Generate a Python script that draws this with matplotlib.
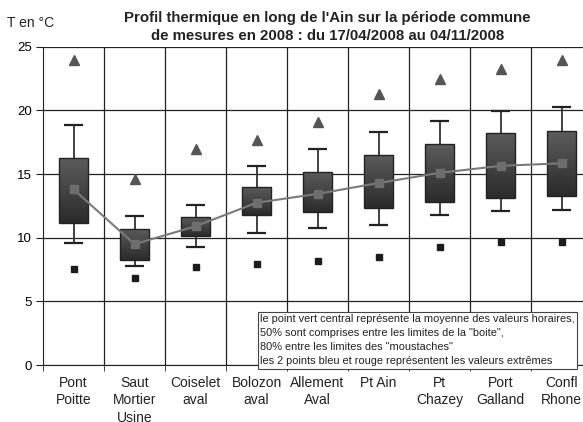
import numpy as np
import matplotlib
matplotlib.use("Agg")
import matplotlib.pyplot as plt

plt.rcParams['font.family'] = ['Liberation Sans', 'DejaVu Sans']

# Stations along the Ain (upstream -> downstream)
stations = ["Pont\nPoitte", "Saut\nMortier\nUsine", "Coiselet\naval", "Bolozon\naval",
            "Allement\nAval", "Pt Ain", "Pt\nChazey", "Port\nGalland", "Confl\nRhone"]

# temperatures (°C)
t_max = [24.0, 14.6, 16.95, 17.7, 19.1, 21.3, 22.5, 23.25, 23.95]
whisk_hi = [18.85, 11.7, 12.6, 15.6, 17.0, 18.3, 19.2, 19.95, 20.3]
box_hi = [16.25, 10.7, 11.6, 13.95, 15.2, 16.5, 17.35, 18.2, 18.35]
t_mean = [13.8, 9.5, 10.9, 12.75, 13.45, 14.3, 15.1, 15.65, 15.85]
box_lo = [11.15, 8.25, 10.1, 11.75, 12.0, 12.3, 12.8, 13.1, 13.3]
whisk_lo = [9.55, 7.75, 9.25, 10.4, 10.8, 11.0, 11.75, 12.1, 12.15]
t_min = [7.55, 6.85, 7.7, 7.95, 8.2, 8.45, 9.3, 9.65, 9.65]

fig = plt.figure(figsize=(5.83, 4.22), dpi=100)
ax = fig.add_axes([0.0738, 0.135, 0.9417, 0.754])

x = np.arange(len(stations)) + 0.5
ax.set_xlim(0, len(stations))
ax.set_ylim(0, 25)

# grid
for v in range(0, 26, 5):
    ax.axhline(v, color='#222222', lw=0.9, zorder=1)
for i in range(1, len(stations) + 1):
    ax.axvline(i, color='#222222', lw=0.9, zorder=1)

# boxes with vertical gradient
grad = np.linspace(0, 1, 100).reshape(-1, 1)
cmap = matplotlib.colors.LinearSegmentedColormap.from_list('g', ['#2b2b2b', '#5c5c5c'])
bw = 0.49
for xi, lo, hi in zip(x, box_lo, box_hi):
    rect = plt.Rectangle((xi - bw / 2, lo), bw, hi - lo, fc='none', ec='#222222', lw=1.0, zorder=4)
    ax.add_patch(rect)
    im = ax.imshow(grad, extent=(xi - bw / 2, xi + bw / 2, lo, hi), origin='lower',
                   cmap=cmap, aspect='auto', zorder=3)
    im.set_clip_path(rect)

# whiskers
cw = 0.32
ax.vlines(x, whisk_lo, box_lo, color='#333333', lw=1.3, zorder=2)
ax.vlines(x, box_hi, whisk_hi, color='#333333', lw=1.3, zorder=2)
ax.hlines(whisk_lo, x - cw / 2, x + cw / 2, color='#222222', lw=1.6, zorder=2)
ax.hlines(whisk_hi, x - cw / 2, x + cw / 2, color='#222222', lw=1.6, zorder=2)

# mean line
ax.plot(x, t_mean, color='#7a7a7a', lw=1.5, marker='s', ms=5.5,
        mfc='#6e6e6e', mec='#6e6e6e', zorder=5)

# extremes
ax.plot(x, t_max, ls='none', marker='^', ms=7, color='#555555', zorder=5)
ax.plot(x, t_min, ls='none', marker='s', ms=5, color='#1c1c1c', zorder=5)

# axes styling
for s in ['top', 'right']:
    ax.spines[s].set_visible(False)
ax.spines['left'].set_color('#222222')
ax.spines['bottom'].set_color('#222222')
ax.set_yticks(range(0, 26, 5))
ax.tick_params(axis='y', length=5, labelsize=9.5, color='#222222', pad=3)
ax.set_xticks(x)
ax.set_xticklabels(stations, fontsize=10, linespacing=1.3, color='#222222')
ax.tick_params(axis='x', which='major', length=0, pad=8)
ax.set_xticks(np.arange(0, len(stations) + 1), minor=True)
ax.tick_params(axis='x', which='minor', length=4, color='#222222')

fig.text(0.012, 0.945, "T en °C", fontsize=10, color='#222222', va='center')
fig.text(0.562, 0.937, "Profil thermique en long de l'Ain sur la période commune\n"
         "de mesures en 2008 : du 17/04/2008 au 04/11/2008",
         ha='center', va='center', fontsize=10.8, fontweight='bold',
         linespacing=1.35, color='#222222')

note = ("le point vert central représente la moyenne des valeurs horaires,\n"
        "50% sont comprises entre les limites de la \"boite\",\n"
        "80% entre les limites des \"moustaches\"\n"
        "les 2 points bleu et rouge représentent les valeurs extrêmes")
ax.text(3.56, 3.98, note, fontsize=7.9, va='top', ha='left', linespacing=1.5,
        color='#222222', zorder=6,
        bbox=dict(boxstyle='square,pad=0.22', fc='white', ec='#444444', lw=0.8))

fig.savefig("out.png", dpi=100)
